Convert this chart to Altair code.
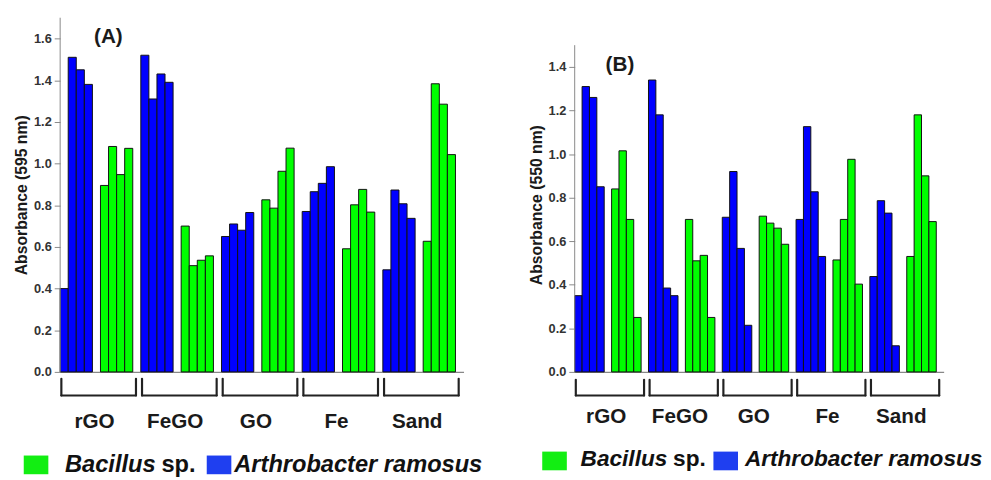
import altair as alt
import pandas as pd

materials = ["rGO", "FeGO", "GO", "Fe", "Sand"]
species = ["Arthrobacter ramosus", "Bacillus sp."]

# Panel A, absorbance at 595 nm (4 bars per material and species)
a_arthro = [[0.40, 1.51, 1.45, 1.38], [1.52, 1.31, 1.43, 1.39], [0.65, 0.71, 0.68, 0.765],
            [0.77, 0.865, 0.905, 0.985], [0.49, 0.873, 0.807, 0.737]]
a_bacillus = [[0.895, 1.082, 0.947, 1.073], [0.70, 0.51, 0.536, 0.557], [0.826, 0.786, 0.963, 1.074],
              [0.591, 0.802, 0.876, 0.767], [0.627, 1.383, 1.285, 1.043]]
# Panel B, absorbance at 550 nm
b_arthro = [[0.35, 1.31, 1.26, 0.85], [1.34, 1.18, 0.385, 0.35], [0.71, 0.92, 0.567, 0.214],
            [0.70, 1.126, 0.827, 0.53], [0.438, 0.786, 0.729, 0.12]]
b_bacillus = [[0.84, 1.015, 0.70, 0.25], [0.70, 0.51, 0.535, 0.25], [0.715, 0.683, 0.66, 0.586],
              [0.514, 0.70, 0.976, 0.403], [0.53, 1.18, 0.90, 0.69]]

BAR_COLORS = ["#0000ff", "#00ff00"]
LEG_COLORS = ["#1f3ff0", "#12ee12"]
FONT = "Liberation Sans"
H = 360


def bars_df(arthro, bacillus):
    rows = []
    for i, m in enumerate(materials):
        for j, v in enumerate(arthro[i]):
            rows.append({"material": m, "species": species[0], "x0": i * 10 + j, "x1": i * 10 + j + 1,
                         "base": 0.0, "value": v})
        for j, v in enumerate(bacillus[i]):
            rows.append({"material": m, "species": species[1], "x0": i * 10 + 5 + j, "x1": i * 10 + 6 + j,
                         "base": 0.0, "value": v})
    return pd.DataFrame(rows)


def panel(arthro, bacillus, ytitle, ymax, ytop, width, tag, tag_xy, lab_pad,
          br_top, br_bot, leg_sq_y, leg_base, leg_x, leg_size, title_y):
    df = bars_df(arthro, bacillus)
    xscale = alt.Scale(domain=[0, 50], nice=False, zero=False)
    yscale = alt.Scale(domain=[0, ymax], nice=False)
    tick_vals = [round(k * 0.1, 1) for k in range(int(round(ytop * 10)) + 1)]
    even = "round(datum.value*10) % 2 === 0"
    yaxis = alt.Axis(
        values=tick_vals,
        labelExpr=f"{even} ? format(datum.value, '.1f') : ''",
        tickSize={"condition": {"test": even, "value": 6}, "value": 3},
        labelOverlap=False, domain=False, grid=False,
        tickColor="#888888", tickWidth=1,
        labelFont=FONT, labelFontSize=13, labelFontWeight="bold", labelColor="#333333", labelPadding=3,
        title=ytitle, titleFont=FONT, titleFontSize=16, titleFontWeight="bold", titleColor="#1a1a1a",
        titlePadding=4, titleY=title_y,
    )
    names = "[" + ",".join(f"'{m}'" for m in materials) + "]"
    xaxis = alt.Axis(
        values=[i * 10 + 4.2 for i in range(len(materials))],
        labelExpr=f"{names}[floor(datum.value/10)]",
        ticks=False, grid=False, domainColor="#888888", domainWidth=1.2,
        labelFont=FONT, labelFontSize=21, labelFontWeight="bold", labelColor="#1a1a1a",
        labelPadding=lab_pad, labelBaseline="middle", labelFlush=False, labelOverlap=False, title=None,
    )
    bars = alt.Chart(df).mark_bar(stroke="#111111", strokeWidth=1).encode(
        x=alt.X("x0:Q", scale=xscale, axis=xaxis),
        x2="x1:Q",
        y=alt.Y("value:Q", scale=yscale, axis=yaxis),
        y2="base:Q",
        color=alt.Color("species:N", scale=alt.Scale(domain=species, range=BAR_COLORS), legend=None),
    )
    ydom = alt.Chart(pd.DataFrame({"lo": [0.0], "hi": [ytop], "x": [0.0]})).mark_rule(
        color="#888888", strokeWidth=1).encode(
        x=alt.X("x:Q", scale=xscale),
        y=alt.Y("lo:Q", scale=yscale),
        y2="hi:Q",
    )
    bdf = pd.DataFrame({"material": materials,
                        "b0": [i * 10 + 0.15 for i in range(len(materials))],
                        "b1": [i * 10 + 9.4 for i in range(len(materials))]})
    bstyle = dict(color="#222222", strokeWidth=2.2, strokeCap="round")
    hline = alt.Chart(bdf).mark_rule(**bstyle).encode(
        x=alt.X("b0:Q", scale=xscale), x2="b1:Q", y=alt.value(H + br_bot))
    lv = alt.Chart(bdf).mark_rule(**bstyle).encode(
        x=alt.X("b0:Q", scale=xscale), y=alt.value(H + br_top), y2=alt.value(H + br_bot))
    rv = alt.Chart(bdf).mark_rule(**bstyle).encode(
        x=alt.X("b1:Q", scale=xscale), y=alt.value(H + br_top), y2=alt.value(H + br_bot))
    tagc = alt.Chart(pd.DataFrame({"t": [tag]})).mark_text(
        font=FONT, fontSize=21, fontWeight="bold", color="#1a1a1a", align="center", baseline="middle"
    ).encode(text="t:N", x=alt.value(tag_xy[0]), y=alt.value(tag_xy[1]))

    # custom legend (green first, then blue), with mixed italic / upright text
    gx0, bx0, tx_bac, tx_sp, tx_art = leg_x
    sq = []
    for (x0, col) in [(gx0, LEG_COLORS[1]), (bx0, LEG_COLORS[0])]:
        sq.append(alt.Chart(pd.DataFrame({"c": [col]})).mark_rect().encode(
            x=alt.value(x0), x2=alt.value(x0 + 25), y=alt.value(leg_sq_y), y2=alt.value(leg_sq_y + 19),
            color=alt.Color("c:N", scale=None)))
    txt = []
    for (x0, s, style) in [(tx_bac, "Bacillus", "italic"), (tx_sp, "sp.", "normal"),
                           (tx_art, "Arthrobacter ramosus", "italic")]:
        txt.append(alt.Chart(pd.DataFrame({"t": [s]})).mark_text(
            font=FONT, fontSize=leg_size, fontWeight="bold", fontStyle=style, color="#111111",
            align="left", baseline="alphabetic"
        ).encode(text="t:N", x=alt.value(x0), y=alt.value(leg_base)))

    return alt.layer(bars, ydom, hline, lv, rv, tagc, *sq, *txt).properties(width=width, height=H)


pA = panel(a_arthro, a_bacillus, "Absorbance (595 nm)", 1.70, 1.7, 410, "(A)", (49, 20), 51,
           7, 24, 445, 462, (-37, 149, 5, 103, 177), 24, 180)
pB = panel(b_arthro, b_bacillus, "Absorbance (550 nm)", 1.626, 1.5, 375, "(B)", (46, 48), 45,
           8, 24, 441, 456, (-33, 141, 6, 100, 173), 23, 190)

chart = alt.hconcat(pA, pB, spacing=113, bounds="flush").properties(
    padding={"left": 5, "top": 5, "right": 0, "bottom": 0}
).configure(font=FONT, background="white", view=alt.ViewConfig(stroke=None))

chart.save("out.html", embed_options={"renderer": "svg", "actions": False})
